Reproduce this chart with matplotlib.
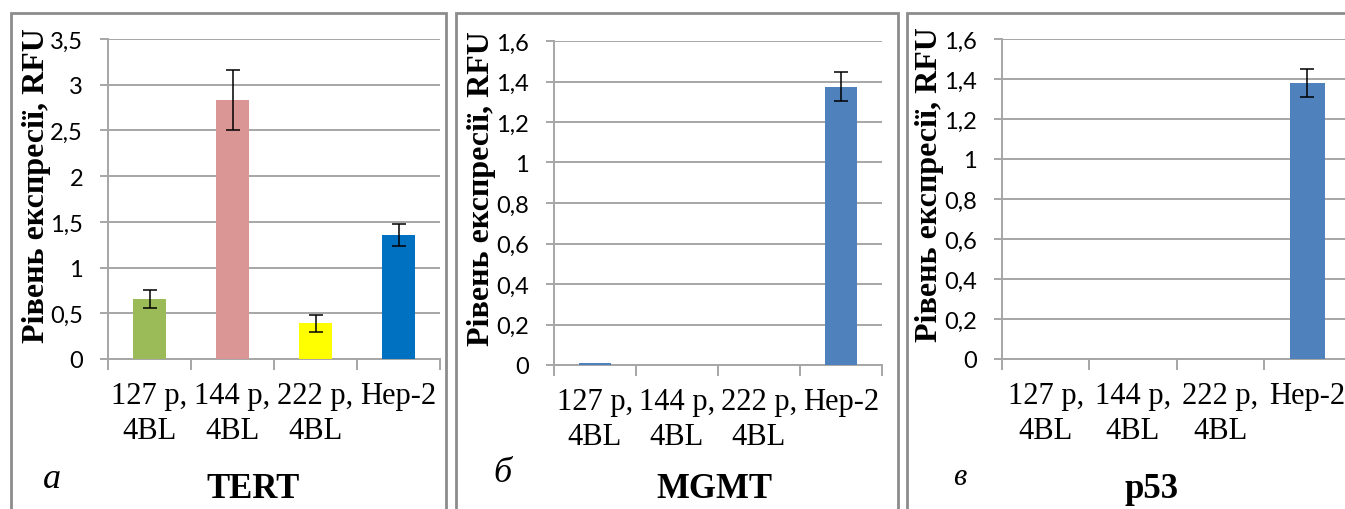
import matplotlib
matplotlib.use("Agg")
import matplotlib.pyplot as plt
import matplotlib.ticker as mticker
from matplotlib.patches import Rectangle

W, H, DPI = 1345, 510, 100

categories = ["127 p,\n4BL", "144 p,\n4BL", "222 p,\n4BL", "Hep-2"]

# TERT
tert_vals = [0.66, 2.83, 0.39, 1.36]
tert_err = [0.10, 0.33, 0.095, 0.12]
tert_colors = ["#9BBB59", "#D99694", "#FFFF00", "#0070C0"]

# MGMT
mgmt_vals = [0.01, 0.0, 0.0, 1.375]
mgmt_err = [0.0, 0.0, 0.0, 0.07]

# p53
p53_vals = [0.0, 0.0, 0.0, 1.38]
p53_err = [0.0, 0.0, 0.0, 0.07]

BLUE = "#4F81BD"
GRID = "#A6A6A6"
FRAME = "#8C8C8C"

SERIF = "Liberation Serif"
SANS = "Lato"

fig = plt.figure(figsize=(W / DPI, H / DPI), dpi=DPI)


def px_axes(left, right, top, bottom):
    return fig.add_axes([left / W, 1 - bottom / H, (right - left) / W, (bottom - top) / H])


def fx(x):
    return x / W


def fy(y):
    return 1 - y / H


def draw_panel(ax, vals, errs, colors, ymax, step):
    x = range(len(vals))
    ax.bar(x, vals, width=0.4, color=colors, zorder=3)
    show = [i for i, e in enumerate(errs) if e > 0]
    ax.errorbar([i for i in show], [vals[i] for i in show], yerr=[errs[i] for i in show],
                fmt="none", ecolor="black", elinewidth=1.1, capsize=5, capthick=1.1, zorder=4)
    ax.set_xlim(-0.5, len(vals) - 0.5)
    ax.set_ylim(0, ymax)
    ax.yaxis.set_major_locator(mticker.MultipleLocator(step))
    ax.yaxis.set_major_formatter(mticker.FuncFormatter(
        lambda v, p: ("%g" % round(v, 2)).replace(".", ",")))
    ax.grid(True, axis="y", color=GRID, lw=1.4, zorder=0)
    ax.set_axisbelow(True)
    for s in ("top", "right"):
        ax.spines[s].set_visible(False)
    for s in ("left", "bottom"):
        ax.spines[s].set_color(GRID)
        ax.spines[s].set_linewidth(1.4)
    ax.set_xticks(list(x))
    ax.set_xticklabels(categories, fontfamily=SERIF, fontsize=22, linespacing=1.25)
    ax.set_xticks([i - 0.5 for i in range(len(vals) + 1)], minor=True)
    ax.tick_params(axis="x", which="major", length=0, pad=16)
    ax.tick_params(axis="x", which="minor", length=8, color=GRID, width=1.4)
    ax.tick_params(axis="y", length=6, color=GRID, width=1.4, pad=12, labelsize=17)
    for lab in ax.get_yticklabels():
        lab.set_fontfamily(SANS)
    ax.set_facecolor("none")


ax1 = px_axes(108, 440, 40, 360)
draw_panel(ax1, tert_vals, tert_err, tert_colors, 3.5, 0.5)

ax2 = px_axes(554, 882, 42, 366)
draw_panel(ax2, mgmt_vals, mgmt_err, [BLUE] * 4, 1.6, 0.2)

ax3 = px_axes(1002, 1351, 40, 360)
draw_panel(ax3, p53_vals, p53_err, [BLUE] * 4, 1.6, 0.2)

# panel frames
for left, right in [(11, 446), (456, 898), (907, 1360)]:
    fig.patches.append(Rectangle((fx(left), fy(530)), fx(right - left), (530 - 14) / H,
                                 transform=fig.transFigure, fill=False,
                                 edgecolor=FRAME, lw=2, zorder=0))

ylabel = "Рівень експресії, RFU"
for xc, yc in [(37, 186), (481, 189), (930, 185)]:
    fig.text(fx(xc), fy(yc), ylabel, rotation=90, ha="center", va="center",
             fontfamily=SERIF, fontweight="bold", fontsize=23)

for xc, yc, letter, size in [(52, 480, "а", 26), (502, 474, "б", 26), (960, 478, "в", 22)]:
    fig.text(fx(xc), fy(yc), letter, ha="center", va="center", fontfamily=SERIF,
             fontstyle="italic", fontsize=size)

for xc, yc, name in [(253, 490, "TERT"), (714, 490, "MGMT"), (1152, 490, "p53")]:
    fig.text(fx(xc), fy(yc), name, ha="center", va="center", fontfamily=SERIF,
             fontweight="bold", fontsize=25)

fig.savefig("out.png", dpi=DPI)
